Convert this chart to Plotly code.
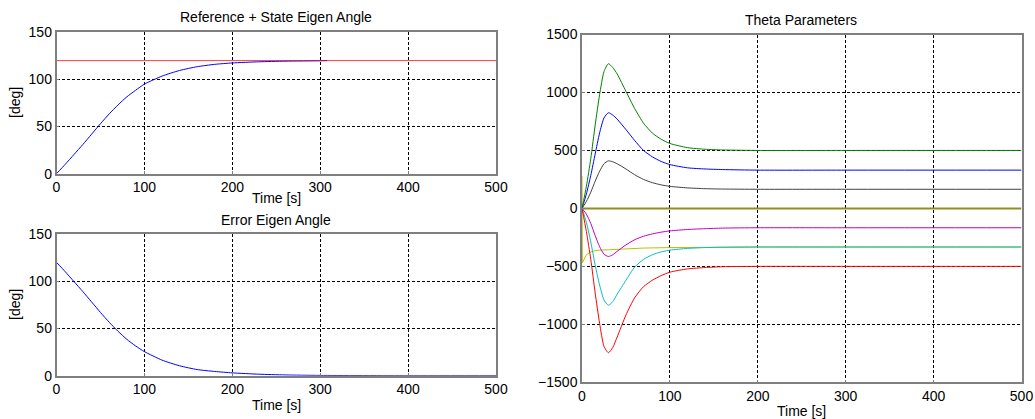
import plotly.graph_objects as go

W, H = 1035, 419

# ---- Left top: reference + state eigen angle ----
t_state = [0, 10, 20, 30, 40, 50, 60, 70, 80, 90, 100, 120, 140, 160, 180, 200, 230, 260, 300, 308]
state_angle = [0, 10, 20.5, 31, 42, 53, 63.5, 73, 81.5, 88.5, 95, 103.5, 109.5, 113.5, 116, 117.5, 118.7, 119.4, 119.8, 120]
t_ref = [0, 500]
ref_angle = [120, 120]

# ---- Left bottom: error eigen angle ----
t_err = [0, 10, 20, 30, 40, 50, 60, 70, 80, 90, 100, 120, 140, 160, 180, 200, 230, 260, 300, 400, 500]
err_angle = [120, 110, 99.5, 89, 78, 67, 56.5, 47, 38.5, 31.5, 25.5, 16.5, 10.5, 6.5, 4.5, 3, 1.6, 0.8, 0.3, 0, 0]

# ---- Right: theta parameters ----
t_theta = [0, 5, 10, 15, 20, 25, 30, 35, 40, 50, 60, 70, 80, 90, 100, 120, 140, 160, 200, 300, 500]
theta_green = [0, 190, 430, 720, 980, 1180, 1248, 1215, 1160, 1010, 860, 735, 650, 597, 560, 524, 510, 504, 500, 500, 500]
theta_blue = [0, 125, 285, 470, 650, 780, 825, 805, 770, 680, 585, 500, 445, 405, 378, 350, 340, 335, 330, 330, 330]
theta_black = [0, 60, 140, 235, 320, 385, 410, 402, 385, 340, 290, 250, 222, 203, 190, 177, 170, 167, 165, 165, 165]
theta_red = [0, -200, -440, -730, -990, -1190, -1245, -1200, -1110, -920, -770, -675, -620, -580, -550, -522, -510, -503, -500, -500, -500]
theta_cyan = [0, -120, -290, -490, -660, -790, -835, -805, -740, -620, -505, -440, -400, -375, -360, -345, -338, -335, -333, -333, -333]
theta_magenta = [0, -50, -130, -235, -330, -395, -415, -400, -370, -315, -270, -240, -220, -205, -194, -182, -175, -170, -167, -167, -167]
t_yellow = [0, 0.4, 5, 10, 15, 20, 30, 40, 50, 70, 100, 140, 200, 500]
theta_yellow = [280, -470, -400, -375, -365, -360, -357, -352, -348, -342, -338, -335, -333, -333]
t_zero = [0, 500]
theta_zero = [0, 0]

x_ticks = [0, 100, 200, 300, 400, 500]
deg_ticks = [0, 50, 100, 150]
theta_ticks = [-1500, -1000, -500, 0, 500, 1000, 1500]

C_BLUE = "#0000ff"
C_GREEN = "#008000"
C_RED = "#ff0000"
C_CYAN = "#00bfbf"
C_MAG = "#bf00bf"
C_YEL = "#bfbf00"
C_BLK = "#404040"

fig = go.Figure()

def line(x, y, color, xa, ya, width=1, opacity=1.0, shape="spline"):
    fig.add_trace(go.Scatter(x=x, y=y, mode="lines", line=dict(color=color, width=width, shape=shape, smoothing=0.6),
                             xaxis=xa, yaxis=ya, showlegend=False, opacity=opacity, hoverinfo="skip"))

# left top
line(t_state, state_angle, C_BLUE, "x", "y")
line(t_ref, ref_angle, C_RED, "x", "y", opacity=0.75, shape="linear")
# left bottom
line(t_err, err_angle, C_BLUE, "x2", "y2")
# right
line(t_zero, theta_zero, "#8f8f20", "x3", "y3", width=2, shape="linear")
line(t_yellow, theta_yellow, C_YEL, "x3", "y3", shape="linear")
line(t_theta, theta_black, C_BLK, "x3", "y3")
line(t_theta, theta_magenta, C_MAG, "x3", "y3")
line(t_theta, theta_cyan, C_CYAN, "x3", "y3")
line(t_theta, theta_red, C_RED, "x3", "y3")
line(t_theta, theta_blue, C_BLUE, "x3", "y3")
line(t_theta, theta_green, C_GREEN, "x3", "y3")

def px(v):
    return v / W

def py(v):
    return 1 - v / H

font = "Liberation Sans, Arial, sans-serif"
axis_common = dict(showgrid=True, gridcolor="#000000", griddash="3px,2px", gridwidth=1,
                   zeroline=False, showline=True, mirror=True, linecolor="#7f7f7f", linewidth=1.5,
                   ticks="inside", ticklen=3, tickcolor="#7f7f7f", automargin=False,
                   tickfont=dict(family=font, size=14, color="#000000"))

L0, L1 = px(56.5), px(496)
R0, R1 = px(582), px(1021.5)

fig.update_layout(
    width=W, height=H, margin=dict(l=0, r=0, t=0, b=0, autoexpand=False),
    paper_bgcolor="white", plot_bgcolor="white",
    xaxis=dict(domain=[L0, L1], range=[0, 500], tickvals=x_ticks, anchor="y", **axis_common),
    yaxis=dict(domain=[py(173.7), py(32.3)], range=[0, 150], tickvals=deg_ticks, anchor="x", **axis_common),
    xaxis2=dict(domain=[L0, L1], range=[0, 500], tickvals=x_ticks, anchor="y2", **axis_common),
    yaxis2=dict(domain=[py(375.7), py(234)], range=[0, 150], tickvals=deg_ticks, anchor="x2", **axis_common),
    xaxis3=dict(domain=[R0, R1], range=[0, 500], tickvals=x_ticks, anchor="y3", **axis_common),
    yaxis3=dict(domain=[py(382.3), py(34.5)], range=[-1500, 1500], tickvals=theta_ticks, anchor="x3", **axis_common),
)

def text(x, y, s, angle=0):
    fig.add_annotation(x=px(x), y=py(y), xref="paper", yref="paper", text=s, showarrow=False,
                       xanchor="center", yanchor="middle", textangle=angle,
                       font=dict(family=font, size=14, color="#000000"))

text(276, 17, "Reference + State Eigen Angle")
text(276, 198, "Time [s]")
text(15, 103, "[deg]", -90)
text(276, 220, "Error Eigen Angle")
text(276, 405, "Time [s]")
text(15, 305, "[deg]", -90)
text(801, 20, "Theta Parameters")
text(801, 411, "Time [s]")

fig.write_html("out.html", config={"displayModeBar": False},
               post_script="document.body.style.margin='0';document.body.style.overflow='hidden';")
